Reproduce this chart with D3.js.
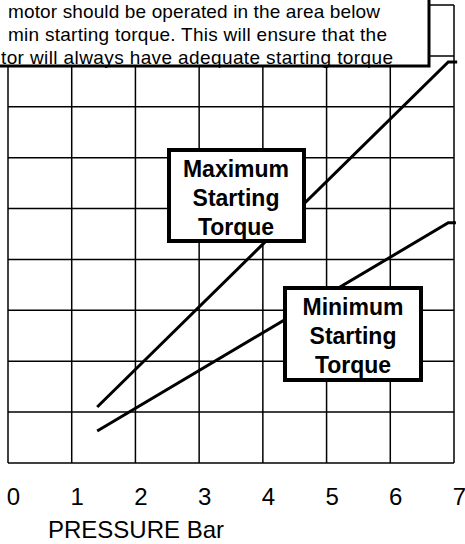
<!DOCTYPE html>
<html>
<head>
<meta charset="utf-8">
<script src="https://cdn.jsdelivr.net/npm/d3@7"></script>
<style>
  html, body { margin: 0; padding: 0; background: #fff; }
  svg { display: block; font-family: "Liberation Sans", Arial, sans-serif; }
</style>
</head>
<body>
<svg id="chart" width="465" height="544"></svg>
<script>
// pressure ticks along the bottom (bar)
var pressureTicks = [0, 1, 2, 3, 4, 5, 6, 7];
// torque grid rows (no labels shown in the crop)
var torqueRows = d3.range(0, 10);

// line points: [pressure, torque]
var maxTorque = [[1.4, 1.1], [6.91, 7.88], [7.05, 7.88]];
var minTorque = [[1.4, 0.63], [6.91, 4.72], [7.03, 4.72]];

// note text as visible in the crop
var noteLines = [
  "motor should be operated in the area below",
  "min starting torque. This will ensure that the",
  "tor will always have adequate starting torque"
];
var maxLabel = ["Maximum", "Starting", "Torque"];
var minLabel = ["Minimum", "Starting", "Torque"];

var svg = d3.select("#chart"),
    x = d3.scaleLinear().domain([0, 7]).range([8, 454]),
    y = d3.scaleLinear().domain([0, 9]).range([463, 5]);

// grid
svg.append("g")
  .selectAll("line")
  .data(pressureTicks)
  .join("line")
  .attr("x1", d => x(d)).attr("x2", d => x(d))
  .attr("y1", y(0)).attr("y2", y(9))
  .attr("stroke", "#000").attr("stroke-width", 1.5);

svg.append("g")
  .selectAll("line")
  .data(torqueRows)
  .join("line")
  .attr("x1", x(0)).attr("x2", x(7))
  .attr("y1", d => y(d)).attr("y2", d => y(d))
  .attr("stroke", "#000").attr("stroke-width", 1.5);

// torque lines
var line = d3.line().x(d => x(d[0])).y(d => y(d[1]));

svg.selectAll("path.torque")
  .data([maxTorque, minTorque])
  .join("path")
  .attr("class", "torque")
  .attr("d", line)
  .attr("fill", "none")
  .attr("stroke", "#000")
  .attr("stroke-width", 3);

// x axis labels
var xAxis = d3.axisBottom(x)
  .tickValues(pressureTicks)
  .tickFormat(d3.format("d"))
  .tickSize(0).tickPadding(0);
var gx = svg.append("g")
  .attr("transform", "translate(5,488)")
  .call(xAxis);
gx.select(".domain").remove();
gx.selectAll("text")
  .attr("font-size", 24)
  .attr("font-family", "Liberation Sans, Arial, sans-serif")
  .attr("dy", "0.71em")
  .attr("fill", "#000");

svg.append("text")
  .attr("x", 48).attr("y", 538)
  .attr("font-size", 24)
  .text("PRESSURE Bar");

// labelled boxes
function labelBox(lines, x0, y0, w, h, cx, firstBase) {
  var g = svg.append("g");
  g.append("rect")
    .attr("x", x0).attr("y", y0).attr("width", w).attr("height", h)
    .attr("fill", "#fff").attr("stroke", "#000").attr("stroke-width", 4);
  g.selectAll("text")
    .data(lines)
    .join("text")
    .attr("x", cx)
    .attr("y", (d, i) => firstBase + i * 29)
    .attr("text-anchor", "middle")
    .attr("font-size", 23)
    .attr("font-weight", "bold")
    .text(d => d);
}
labelBox(maxLabel, 169, 150, 135, 91, 236, 177);
labelBox(minLabel, 285, 288, 136, 92, 353, 315);

// note box at the top
svg.append("rect")
  .attr("x", -5).attr("y", -5).attr("width", 434).attr("height", 71)
  .attr("fill", "#fff").attr("stroke", "#000").attr("stroke-width", 3);

var noteX = [8, 8, 1],
    noteW = [372, 379, 392];
svg.append("g")
  .selectAll("text")
  .data(noteLines)
  .join("text")
  .attr("x", (d, i) => noteX[i])
  .attr("y", (d, i) => 18 + i * 23)
  .attr("font-size", 19)
  .attr("textLength", (d, i) => noteW[i])
  .attr("lengthAdjust", "spacing")
  .text(d => d);
</script>
</body>
</html>
